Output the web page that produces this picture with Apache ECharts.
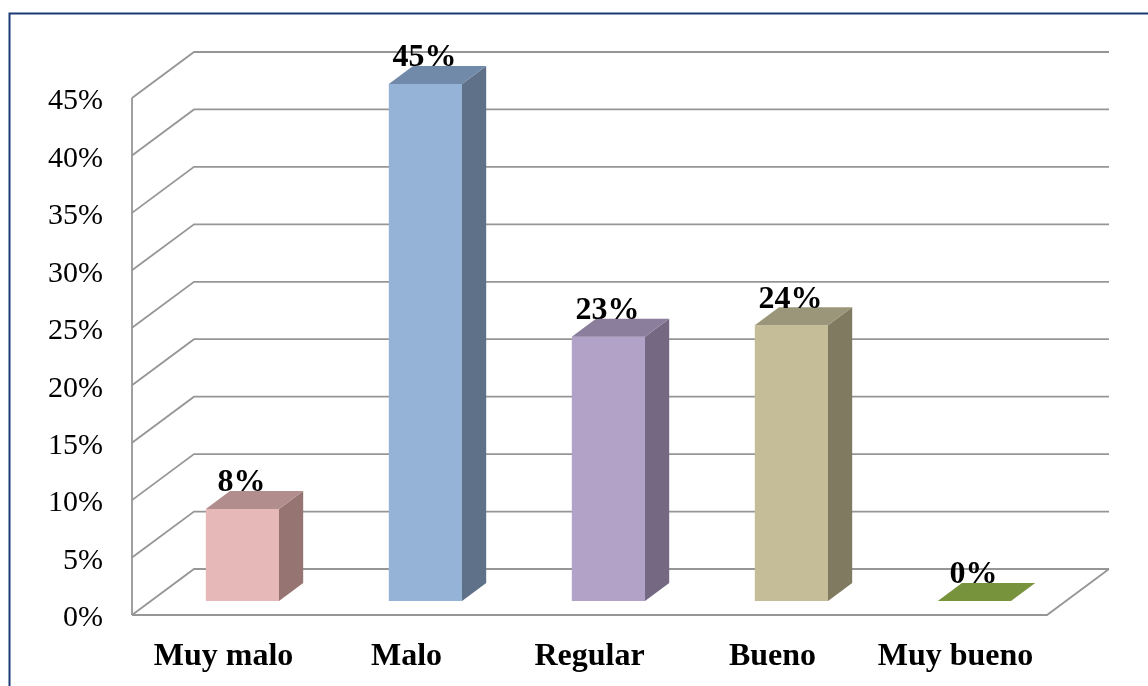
<!DOCTYPE html>
<html>
<head>
<meta charset="utf-8">
<script src="https://cdn.jsdelivr.net/npm/echarts@6/dist/echarts.min.js"></script>
<style>
  html, body { margin: 0; padding: 0; background: #ffffff; }
  #chart { width: 1148px; height: 686px; }
</style>
</head>
<body>
<div id="chart"></div>
<script>
// Survey rating distribution (percent of respondents)
const categories = ['Muy malo', 'Malo', 'Regular', 'Bueno', 'Muy bueno'];
const values = [8, 45, 23, 24, 0];

// Face colours of the 3D columns: front, top, right side
const frontColors = ['#E6B9B8', '#95B3D7', '#B3A2C7', '#C4BD97', '#77933C'];
const topColors   = ['#B18E8D', '#728AAA', '#8B7E9C', '#9B9679', '#77933C'];
const sideColors  = ['#957472', '#5F7089', '#746882', '#7F7A60', '#5E742F'];

// Oblique depth of the plot box (pixels)
const DX = 62, DY = 46;
const SERIF = '"Liberation Serif", "Times New Roman", serif';
const GRID_COLOR = '#969696';

const chart = echarts.init(document.getElementById('chart'), null, { renderer: 'canvas' });

function renderWalls(params, api) {
  const cs = params.coordSys;
  const left = cs.x, right = cs.x + cs.width;
  const children = [];
  const yMin = api.coord([0, 0])[1];
  const yMax = api.coord([0, 45])[1];
  for (let v = 0; v <= 45; v += 5) {
    const y = api.coord([0, v])[1];
    children.push({
      type: 'polyline',
      shape: { points: [[left, y], [left + DX, y - DY], [right + DX, y - DY]] },
      style: { stroke: GRID_COLOR, lineWidth: 1.8, fill: null }
    });
  }
  children.push({
    type: 'line',
    shape: { x1: left, y1: yMax, x2: left, y2: yMin },
    style: { stroke: GRID_COLOR, lineWidth: 1.8 }
  });
  children.push({
    type: 'polyline',
    shape: { points: [[left, yMin], [right, yMin], [right + DX, yMin - DY]] },
    style: { stroke: GRID_COLOR, lineWidth: 1.8, fill: null }
  });
  return { type: 'group', children: children };
}

function renderBar(params, api) {
  const i = params.dataIndex;
  const val = api.value(1);
  const top = api.coord([i, val]);
  const base = api.coord([i, 0]);
  const band = api.size([1, 0])[0];
  const w = band * 0.4;
  const ox = DX * 0.305, oy = DY * 0.305;   // column sits in the middle of the depth
  const bx = DX * 0.39, by = DY * 0.39;     // column depth
  const x0 = top[0] - w / 2 + ox;
  const yt = top[1] - oy;
  const yb = base[1] - oy;
  const children = [];
  if (yb - yt > 0.5) {
    children.push({
      type: 'rect',
      shape: { x: x0, y: yt, width: w, height: yb - yt },
      style: { fill: frontColors[i] }
    });
    children.push({
      type: 'polygon',
      shape: { points: [[x0 + w, yb], [x0 + w, yt], [x0 + w + bx, yt - by], [x0 + w + bx, yb - by]] },
      style: { fill: sideColors[i] }
    });
  }
  children.push({
    type: 'polygon',
    shape: { points: [[x0, yt], [x0 + w, yt], [x0 + w + bx, yt - by], [x0 + bx, yt - by]] },
    style: { fill: topColors[i] }
  });
  children.push({
    type: 'text',
    style: {
      x: x0 + w / 2 - 1,
      y: yt - by - 8,
      text: val + '%',
      fill: '#000000',
      font: 'bold 32px ' + SERIF,
      align: 'center',
      verticalAlign: 'middle'
    }
  });
  return { type: 'group', children: children };
}

chart.setOption({
  animation: false,
  backgroundColor: '#ffffff',
  graphic: [{
    type: 'rect',
    shape: { x: 9.5, y: 13.5, width: 1300, height: 800 },
    style: { fill: null, stroke: '#1C3A73', lineWidth: 2 },
    silent: true
  }],
  grid: { left: 132, top: 98, width: 915, height: 517 },
  xAxis: {
    type: 'category',
    data: categories,
    axisLine: { show: false },
    axisTick: { show: false },
    splitLine: { show: false },
    axisLabel: {
      interval: 0,
      margin: 26,
      color: '#000000',
      fontFamily: SERIF,
      fontWeight: 'bold',
      fontSize: 32
    }
  },
  yAxis: {
    type: 'value',
    min: 0,
    max: 45,
    interval: 5,
    axisLine: { show: false },
    axisTick: { show: false },
    splitLine: { show: false },
    axisLabel: {
      margin: 29,
      color: '#000000',
      formatter: '{v|{value}%}',
      rich: {
        v: {
          fontFamily: SERIF,
          fontSize: 30,
          color: '#000000',
          padding: [7, 0, 0, 0]
        }
      }
    }
  },
  series: [
    {
      type: 'custom',
      clip: false,
      silent: true,
      renderItem: renderWalls,
      data: [[0, 0]],
      z: 1
    },
    {
      type: 'custom',
      clip: false,
      renderItem: renderBar,
      data: values.map((v, i) => [i, v]),
      z: 2
    }
  ]
});
</script>
</body>
</html>
